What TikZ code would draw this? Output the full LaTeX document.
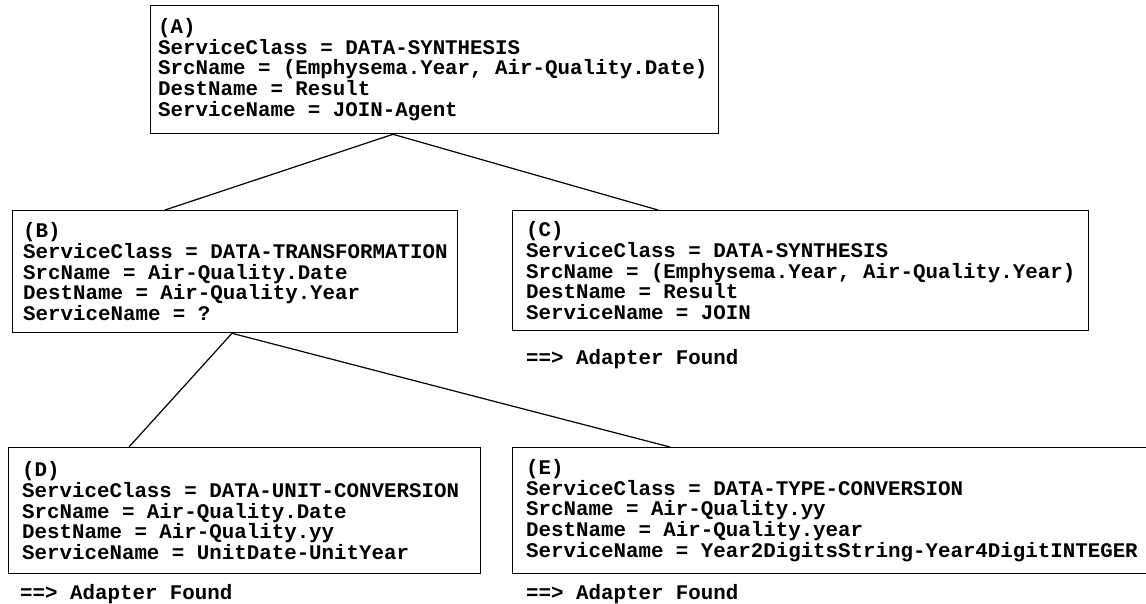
\documentclass[tikz,border=0pt]{standalone}
\usepackage{fontspec}
\setmonofont{Liberation Mono}
\usetikzlibrary{calc}
\begin{document}
\begin{tikzpicture}[x=1pt,y=-1pt,
  box/.style={draw, line width=1.3pt, inner sep=0pt, anchor=north west},
  txt/.style={font=\ttfamily\bfseries\fontsize{20.8}{20.8}\selectfont, align=left, inner sep=0pt, anchor=west},
  note/.style={font=\ttfamily\bfseries\fontsize{20.8}{20.8}\selectfont, inner sep=0pt, anchor=base west},
  link/.style={line width=1.2pt}]
\useasboundingbox (0,0) rectangle (1146,604);
\clip (0,0) rectangle (1146,604);
% boxes
\node[box, minimum width=568, minimum height=128] (A) at (150,5) {};
\node[box, minimum width=445, minimum height=122] (B) at (12,210) {};
\node[box, minimum width=576, minimum height=120] (C) at (512,210) {};
\node[box, minimum width=472, minimum height=126] (D) at (8,447) {};
\node[box, minimum width=640, minimum height=126] (E) at (512,447) {};
% texts
\node[txt] (At) at ($(A.west)+(8,0)$) {(A)\\ServiceClass = DATA-SYNTHESIS\\SrcName = (Emphysema.Year, Air-Quality.Date)\\DestName = Result\\ServiceName = JOIN-Agent};
\node[txt] (Bt) at ($(B.west)+(11,0)$) {(B)\\ServiceClass = DATA-TRANSFORMATION\\SrcName = Air-Quality.Date\\DestName = Air-Quality.Year\\ServiceName = ?};
\node[txt] (Ct) at ($(C.west)+(14,0)$) {(C)\\ServiceClass = DATA-SYNTHESIS\\SrcName = (Emphysema.Year, Air-Quality.Year)\\DestName = Result\\ServiceName = JOIN};
\node[txt] (Dt) at ($(D.west)+(14,0)$) {(D)\\ServiceClass = DATA-UNIT-CONVERSION\\SrcName = Air-Quality.Date\\DestName = Air-Quality.yy\\ServiceName = UnitDate-UnitYear};
\node[txt] (Et) at ($(E.west)+(14,0)$) {(E)\\ServiceClass = DATA-TYPE-CONVERSION\\SrcName = Air-Quality.yy\\DestName = Air-Quality.year\\ServiceName = Year2DigitsString-Year4DigitINTEGER};
% notes
\node[note] (Cn) at (526,364) {==> Adapter Found};
\node[note] (Dn) at (20,599) {==> Adapter Found};
\node[note] (En) at (526,599) {==> Adapter Found};
% connectors
\coordinate (Aa) at ($(A.south west)+(243,0)$);
\coordinate (Ba) at ($(B.south west)+(220,0)$);
\draw[link] (Aa) -- ($(B.north west)+(153,0)$);
\draw[link] (Aa) -- ($(C.north west)+(146,0)$);
\draw[link] (Ba) -- ($(D.north west)+(121,0)$);
\draw[link] (Ba) -- ($(E.north west)+(158,0)$);
\end{tikzpicture}
\end{document}
